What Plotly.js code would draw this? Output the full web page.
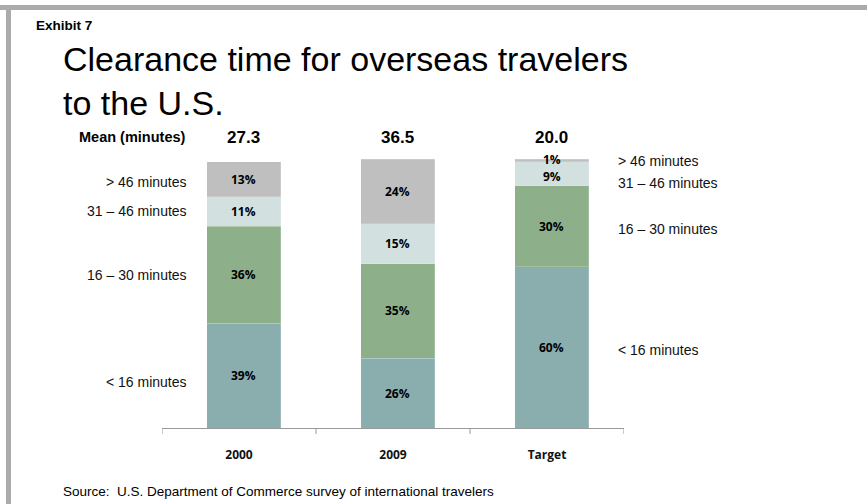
<!DOCTYPE html>
<html>
<head>
<meta charset="utf-8">
<script src="https://cdn.plot.ly/plotly-3.0.1.min.js"></script>
<style>
html,body{margin:0;padding:0;background:#fff;}
#chart{width:867px;height:504px;}
</style>
</head>
<body>
<div id="chart"></div>
<script>
// ---- data ----
const categories = ["2000", "2009", "Target"];
const means = ["27.3", "36.5", "20.0"];
const seriesNames = ["< 16 minutes", "16 – 30 minutes", "31 – 46 minutes", "> 46 minutes"];
const under16 = [39, 26, 60];
const from16to30 = [36, 35, 30];
const from31to46 = [11, 15, 9];
const over46 = [13, 24, 1];

// ---- styles ----
const colors = ["#8AADAD", "#8DB08A", "#D2E0E0", "#BFBFBF"];
const series = [under16, from16to30, from31to46, over46];
const xs = categories.map((c, i) => i);
const barWidth = 0.48;
const barNudge = 0.03;
const W = 867, H = 504, L = 162, R = 243, T = 159, B = 76;
const pw = W - L - R, ph = H - T - B;
const px = v => (v - L) / pw;          // page px -> paper x
const py = v => (H - B - v) / ph;      // page px -> paper y
const txtFont = {family: "Open Sans, Liberation Sans, sans-serif", size: 12, color: "#000", weight: 700};
const sideFont = {family: "Liberation Sans, Arial, sans-serif", size: 14, color: "#111"};

const traces = series.map((vals, k) => ({
  type: "bar",
  x: xs,
  y: vals,
  width: barWidth,
  offset: -barWidth / 2 + barNudge,
  name: seriesNames[k],
  marker: {color: colors[k], line: {color: "rgba(255,255,255,0.3)", width: 0.6}},
  hoverinfo: "skip",
  showlegend: false
}));

const annotations = [];
// segment value labels
const cum = xs.map(() => 0);
const labelShift = [[0, 0, 0, 0], [0, 0, 0, 0], [0, 0, -3, 1]];
series.forEach((vals, k) => {
  vals.forEach((v, i) => {
    const mid = cum[i] + v / 2;
    cum[i] += v;
    annotations.push({
      x: xs[i] + barNudge, y: mid, xref: "x", yref: "y",
      text: "<b>" + v + "%</b>", showarrow: false,
      font: txtFont, yshift: labelShift[i][k]
    });
  });
});
// left-side labels next to first bar
const leftShift = [-6, 0, 0, -3];
let c0 = 0;
series.forEach((vals, k) => {
  const mid = c0 + vals[0] / 2;
  c0 += vals[0];
  annotations.push({
    x: xs[0] - 0.325, y: mid, xref: "x", yref: "y", xanchor: "right",
    text: seriesNames[k], showarrow: false, font: sideFont, yshift: leftShift[k]
  });
});
// right-side labels next to last bar
const last = xs.length - 1;
const rightShift = [-3, -3, -9, -1];
let c2 = 0;
series.forEach((vals, k) => {
  const mid = c2 + vals[last] / 2;
  c2 += vals[last];
  annotations.push({
    x: xs[last] + 0.45, y: mid, xref: "x", yref: "y", xanchor: "left",
    text: seriesNames[k], showarrow: false, font: sideFont, yshift: rightShift[k]
  });
});
// means
means.forEach((m, i) => {
  annotations.push({
    x: xs[i] + barNudge, y: 1, xref: "x", yref: "paper", yanchor: "middle",
    text: "<b>" + m + "</b>", showarrow: false, yshift: 22,
    font: {family: "Liberation Sans, Arial, sans-serif", size: 17, color: "#000"}
  });
});
annotations.push({
  x: px(188), y: 1, xref: "paper", yref: "paper", xanchor: "right", yanchor: "middle",
  text: "<b>Mean (minutes)</b>", showarrow: false, yshift: 22,
  font: {family: "Liberation Sans, Arial, sans-serif", size: 14.5, color: "#000"}
});
// title / exhibit / source
annotations.push({
  x: px(34), y: py(25), xref: "paper", yref: "paper", xanchor: "left", yanchor: "middle",
  text: "<b>Exhibit 7</b>", showarrow: false,
  font: {family: "Liberation Sans, Arial, sans-serif", size: 13.5, color: "#000"}
});
annotations.push({
  x: px(61), y: py(81), xref: "paper", yref: "paper", xanchor: "left", yanchor: "middle", align: "left",
  text: "Clearance time for overseas travelers<br>to the U.S.", showarrow: false,
  font: {family: "Liberation Sans, Arial, sans-serif", size: 34, color: "#000"}
});
annotations.push({
  x: px(61), y: py(492), xref: "paper", yref: "paper", xanchor: "left", yanchor: "middle",
  text: "Source:  U.S. Department of Commerce survey of international travelers", showarrow: false,
  font: {family: "Liberation Sans, Arial, sans-serif", size: 13.5, color: "#000"}
});

// tick marks at category boundaries
const shapes = [];
for (let i = 0; i <= xs.length; i++) {
  shapes.push({type: "line", xref: "x", yref: "paper", x0: i - 0.5, x1: i - 0.5, y0: 0, y1: -6 / ph,
    line: {color: "#999", width: 1}});
}
// frame
shapes.push({type: "line", xref: "paper", yref: "paper", x0: px(0), x1: px(W), y0: py(7.5), y1: py(7.5),
  line: {color: "#ABABAB", width: 5}});
shapes.push({type: "line", xref: "paper", yref: "paper", x0: px(8.5), x1: px(8.5), y0: py(5), y1: py(H),
  line: {color: "#ABABAB", width: 5}});

const layout = {
  width: W, height: H,
  margin: {l: L, r: R, t: T, b: B},
  paper_bgcolor: "#fff", plot_bgcolor: "#fff",
  barmode: "stack",
  bargap: 0,
  xaxis: {
    range: [-0.5, xs.length - 0.5], tickmode: "array", tickvals: xs,
    ticktext: categories.map(c => "<b>" + c + "</b>"),
    ticks: "", showgrid: false, zeroline: false,
    showline: true, linecolor: "#999", linewidth: 1,
    ticklabelstandoff: 16,
    tickfont: {family: "Open Sans, Liberation Sans, sans-serif", size: 12, color: "#111"},
    fixedrange: true
  },
  yaxis: {
    range: [0, 100], visible: false, showgrid: false, zeroline: false, fixedrange: true
  },
  annotations: annotations,
  shapes: shapes,
  showlegend: false
};

Plotly.newPlot("chart", traces, layout, {displayModeBar: false, staticPlot: true});
</script>
</body>
</html>
